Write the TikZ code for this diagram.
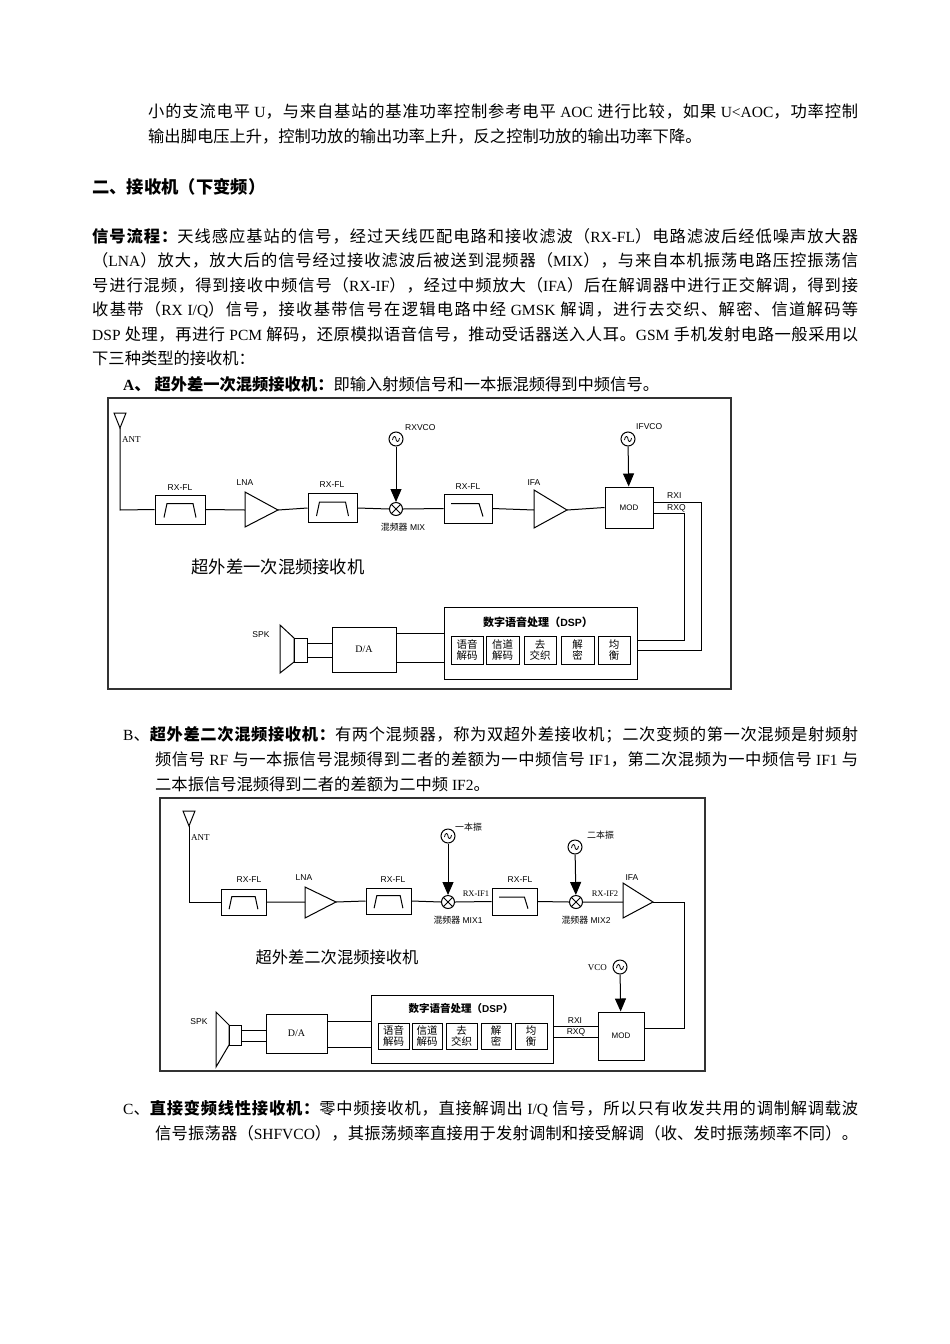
\documentclass[tikz,border=0pt]{standalone}
\usepackage{fontspec}
\setmainfont{Liberation Serif}
\setsansfont{Liberation Sans}
\newfontfamily\cjkfam[Scale=1.05]{Noto Sans CJK SC}
\usetikzlibrary{arrows.meta}
\XeTeXinterchartokenstate=1
\newXeTeXintercharclass\cjkclass
\newcount\cc
\def\setcls#1#2{\cc=#1\relax\loop\XeTeXcharclass\cc=\cjkclass\advance\cc by 1\relax\ifnum\cc<#2\repeat}
\setcls{"3000}{"3040}
\setcls{"4E00}{"A000}
\setcls{"FF00}{"FFF0}
\def\lat{\rmfamily}
\XeTeXinterchartoks 0 \cjkclass = {\cjkfam}
\XeTeXinterchartoks 4095 \cjkclass = {\cjkfam}
\XeTeXinterchartoks \cjkclass 0 = {\lat}
\XeTeXinterchartoks \cjkclass 4095 = {\lat}
\XeTeXinterchartoks \cjkclass \cjkclass = {\hskip0pt plus 3pt minus 1pt\relax}
\tikzset{
 body/.style={anchor=base west,inner sep=0pt,font=\fontsize{15.5}{17}\selectfont},
 full/.style={body,text width=710pt,align=justify},
 frame/.style={draw=black!80,line width=1.3pt},
 ln/.style={line width=1pt},
 blk/.style={draw,line width=1pt,inner sep=0pt},
 lab/.style={inner sep=0pt,font=\def\lat{\sffamily}\sffamily\fontsize{8.5}{9}\selectfont},
 sub/.style={blk,align=center,font=\def\lat{\sffamily}\fontsize{10}{11}\selectfont},
 arr/.style={ln,-{Triangle[length=13pt,width=11pt]}},
 osc/.style={circle,draw,line width=1pt,minimum size=14pt,inner sep=0pt},
 mix/.style={circle,draw,line width=1pt,minimum size=13pt,inner sep=0pt},
 bp/.pic={\draw[line width=1pt] (-16,8)--(-13,-6)--(13,-6)--(16,8);},
 lp/.pic={\draw[line width=1pt] (-17,-5)--(11,-5)--(15,8);},
 sn/.pic={\draw[line width=0.8pt] (-3.5,1) .. controls (-3,-4) and (0,-3) .. (0,0) .. controls (0,3) and (3,4) .. (3.5,-1);},
}
\begin{document}
\begin{tikzpicture}[x=1pt,y=-1pt]
\useasboundingbox[fill=white] (0,0) rectangle (950,1344);
% ---------- text ----------
\node[full] (t1) at (148,117) {\parfillskip=0pt 小的支流电平 U，与来自基站的基准功率控制参考电平 AOC 进行比较，如果 U<AOC，功率控制\par};
\node[body] (t2) at (148,142) {输出脚电压上升，控制功放的输出功率上升，反之控制功放的输出功率下降。};
\node[body,font=\bfseries\fontsize{16.5}{19}\selectfont] (h) at (92,193) {二、接收机（下变频）};
\node[full,text width=766pt] (p1) at (92,242) {\parfillskip=0pt {\bfseries 信号流程：}天线感应基站的信号，经过天线匹配电路和接收滤波（RX-FL）电路滤波后经低噪声放大器\par};
\node[full,text width=766pt] (p2) at (92,266) {\parfillskip=0pt （LNA）放大，放大后的信号经过接收滤波后被送到混频器（MIX），与来自本机振荡电路压控振荡信\par};
\node[full,text width=766pt] (p3) at (92,291) {\parfillskip=0pt 号进行混频，得到接收中频信号（RX-IF），经过中频放大（IFA）后在解调器中进行正交解调，得到接\par};
\node[full,text width=766pt] (p4) at (92,315) {\parfillskip=0pt 收基带（RX I/Q）信号，接收基带信号在逻辑电路中经 GMSK 解调，进行去交织、解密、信道解码等\par};
\node[full,text width=766pt] (p5) at (92,340) {\parfillskip=0pt DSP 处理，再进行 PCM 解码，还原模拟语音信号，推动受话器送入人耳。GSM 手机发射电路一般采用以\par};
\node[body] (p6) at (92,364) {下三种类型的接收机：};
\node[body] (la) at (123,390) {{\bfseries A、 超外差一次混频接收机：}即输入射频信号和一本振混频得到中频信号。};
\node[full,text width=735pt] (lb1) at (123,740) {\parfillskip=0pt B、{\bfseries 超外差二次混频接收机：}有两个混频器，称为双超外差接收机；二次变频的第一次混频是射频射\par};
\node[full,text width=703pt] (lb2) at (155,765) {\parfillskip=0pt 频信号 RF 与一本振信号混频得到二者的差额为一中频信号 IF1，第二次混频为一中频信号 IF1 与\par};
\node[body] (lb3) at (155,790) {二本振信号混频得到二者的差额为二中频 IF2。};
\node[full,text width=735pt] (lc1) at (123,1114) {\parfillskip=0pt C、{\bfseries 直接变频线性接收机：}零中频接收机，直接解调出 I/Q 信号，所以只有收发共用的调制解调载波\par};
\node[full,text width=703pt] (lc2) at (155,1139) {\parfillskip=0pt 信号振荡器（SHFVCO），其振荡频率直接用于发射调制和接受解调（收、发时振荡频率不同）。\par};

% ---------- diagram A ----------
\draw[frame] (108,398) rectangle (731,689);
\draw[ln] (114,413)--(126,413)--(120,428)--cycle;
\coordinate (antA) at (120,428);
\node[lab,anchor=west,font=\rmfamily\fontsize{9}{9}\selectfont] at (122,440) {ANT};
\node[blk,minimum width=50pt,minimum height=29pt] (af1) at (180,509.5) {};
\pic at (af1) {bp};
\node[lab] at (180,488) {RX-FL};
\draw[ln] (245,492)--(245,527)--(278,510)--cycle;
\coordinate (alnaL) at (245,510); \coordinate (alnaR) at (278,510);
\node[lab] at (245,483) {LNA};
\node[blk,minimum width=49pt,minimum height=29pt] (af2) at (332.5,508) {};
\pic at (af2) {bp};
\node[lab] at (332,485) {RX-FL};
\node[mix] (amix) at (396,509) {};
\draw[ln] (amix.45)--(amix.225) (amix.135)--(amix.315);
\node[lab] at (403,527) {混频器 MIX};
\node[osc] (aosc1) at (396,439) {};
\pic at (aosc1) {sn};
\node[lab,anchor=west] at (405,428) {RXVCO};
\draw[arr] (aosc1)--(amix);
\node[blk,minimum width=48pt,minimum height=29pt] (af3) at (468,508.5) {};
\pic at (af3) {lp};
\node[lab] at (468,487) {RX-FL};
\draw[ln] (534,490)--(534,528)--(567,510)--cycle;
\coordinate (aifaL) at (534,510); \coordinate (aifaR) at (567,510);
\node[lab] at (534,483) {IFA};
\node[blk,minimum width=48pt,minimum height=41pt,font=\sffamily\fontsize{8}{8}\selectfont] (amod) at (629,507.5) {MOD};
\node[osc] (aosc2) at (628,439) {};
\pic at (aosc2) {sn};
\node[lab,anchor=west] at (636,427) {IFVCO};
\draw[arr] (aosc2)--(amod);
\draw[ln] (antA)--(120,510)--(af1.west);
\draw[ln] (af1.east)--(alnaL) (alnaR)--(af2.west) (af2.east)--(amix.west) (amix.east)--(af3.west) (af3.east)--(aifaL) (aifaR)--(amod.west);
\node[lab,anchor=west] at (667,496) {RXI};
\node[lab,anchor=west] at (667,508) {RXQ};
\node[blk,minimum width=193pt,minimum height=72pt] (adsp) at (540.5,643) {};
\node[inner sep=0pt,font=\bfseries\def\lat{\sffamily}\sffamily\fontsize{10.5}{12}\selectfont] at (538,622) {数字语音处理（DSP）};
\node[sub,minimum width=32pt,minimum height=28pt] (as1) at (467,650) {语音\\解码};
\node[sub,minimum width=33pt,minimum height=28pt] (as2) at (502.5,650) {信道\\解码};
\node[sub,minimum width=32pt,minimum height=28pt] (as3) at (540,650) {去\\交织};
\node[sub,minimum width=33pt,minimum height=28pt] (as4) at (577.5,650) {解\\密};
\node[sub,minimum width=32pt,minimum height=28pt] (as5) at (614,650) {均\\衡};
\draw[ln] (amod.east |- 0,502)--(701,502)--(701,650)--(adsp.east |- 0,650);
\draw[ln] (amod.east |- 0,513)--(684,513)--(684,640)--(adsp.east |- 0,640);
\node[blk,minimum width=64pt,minimum height=45pt,font=\rmfamily\fontsize{10}{10}\selectfont] (ada) at (364,649.5) {D/A};
\draw[ln] (ada.east |- 0,633)--(adsp.west |- 0,633) (ada.east |- 0,662)--(adsp.west |- 0,662);
\draw[ln] (280,625)--(294,638)--(294,662)--(280,673)--cycle;
\node[blk,minimum width=13pt,minimum height=24pt] (aspk) at (300.5,650) {};
\draw[ln] (aspk.east |- 0,643)--(ada.west |- 0,643) (aspk.east |- 0,657)--(ada.west |- 0,657);
\node[lab] at (261,635) {SPK};
\node[inner sep=0pt,font=\fontsize{16.5}{18}\selectfont] (atitle) at (278,567) {超外差一次混频接收机};

% ---------- diagram B ----------
\draw[frame] (160,798) rectangle (705,1071);
\draw[ln] (183,811)--(195,811)--(189,826)--cycle;
\coordinate (antB) at (189,826);
\node[lab,anchor=west,font=\rmfamily\fontsize{9}{9}\selectfont] at (191,838) {ANT};
\node[blk,minimum width=45pt,minimum height=26pt] (bf1) at (243.5,902) {};
\pic[scale=0.9] at (bf1) {bp};
\node[lab] at (249,880) {RX-FL};
\draw[ln] (305,887)--(305,918)--(336,902)--cycle;
\coordinate (blnaL) at (305,902); \coordinate (blnaR) at (336,902);
\node[lab] at (304,878) {LNA};
\node[blk,minimum width=45pt,minimum height=26pt] (bf2) at (388.5,901) {};
\pic[scale=0.9] at (bf2) {bp};
\node[lab] at (393,880) {RX-FL};
\node[mix] (bmix1) at (448,902) {};
\draw[ln] (bmix1.45)--(bmix1.225) (bmix1.135)--(bmix1.315);
\node[osc] (bosc1) at (448,836) {};
\pic at (bosc1) {sn};
\node[lab,anchor=west] at (455,827) {一本振};
\draw[arr] (bosc1)--(bmix1);
\node[lab,font=\rmfamily\fontsize{8.5}{9}\selectfont] at (476,894) {RX-IF1};
\node[lab] at (458,920) {混频器 MIX1};
\node[blk,minimum width=45pt,minimum height=27pt] (bf3) at (514.5,901.5) {};
\pic[scale=0.9] at (bf3) {lp};
\node[lab] at (520,880) {RX-FL};
\node[mix] (bmix2) at (576,902) {};
\draw[ln] (bmix2.45)--(bmix2.225) (bmix2.135)--(bmix2.315);
\node[osc] (bosc2) at (575,847) {};
\pic at (bosc2) {sn};
\node[lab,anchor=west] at (587,835) {二本振};
\draw[arr] (bosc2)--(bmix2);
\node[lab,font=\rmfamily\fontsize{8.5}{9}\selectfont] at (605,894) {RX-IF2};
\node[lab] at (586,920) {混频器 MIX2};
\draw[ln] (623,883)--(623,918)--(653,902)--cycle;
\coordinate (bifaL) at (623,902); \coordinate (bifaR) at (653,902);
\node[lab] at (632,878) {IFA};
\draw[ln] (antB)--(189,902)--(bf1.west);
\draw[ln] (bf1.east)--(blnaL) (blnaR)--(bf2.west) (bf2.east)--(bmix1.west) (bmix1.east)--(bf3.west) (bf3.east)--(bmix2.west) (bmix2.east)--(bifaL);
\node[blk,minimum width=46pt,minimum height=48pt,font=\sffamily\fontsize{8}{8}\selectfont] (bmod) at (621,1036) {MOD};
\draw[ln] (bifaR)--(684,902)--(684,1028)--(bmod.east |- 0,1028);
\node[osc] (bosc3) at (620,967) {};
\pic at (bosc3) {sn};
\node[lab,anchor=east,font=\rmfamily\fontsize{9}{9}\selectfont] at (607,968) {VCO};
\draw[arr] (bosc3)--(bmod);
\node[inner sep=0pt,font=\fontsize{15.5}{17}\selectfont] (btitle) at (337,957) {超外差二次混频接收机};
\node[blk,minimum width=182pt,minimum height=68pt] (bdsp) at (462,1029) {};
\node[inner sep=0pt,font=\bfseries\def\lat{\sffamily}\sffamily\fontsize{10}{12}\selectfont] at (461,1008) {数字语音处理（DSP）};
\node[sub,minimum width=31pt,minimum height=26pt] (bs1) at (393.5,1036) {语音\\解码};
\node[sub,minimum width=30pt,minimum height=26pt] (bs2) at (427,1036) {信道\\解码};
\node[sub,minimum width=31pt,minimum height=26pt] (bs3) at (461.5,1036) {去\\交织};
\node[sub,minimum width=30pt,minimum height=26pt] (bs4) at (496,1036) {解\\密};
\node[sub,minimum width=32pt,minimum height=26pt] (bs5) at (531,1036) {均\\衡};
\draw[ln] (bdsp.east |- 0,1026)--(bmod.west |- 0,1026) (bdsp.east |- 0,1037)--(bmod.west |- 0,1037);
\node[lab] at (575,1021) {RXI};
\node[lab] at (576,1032) {RXQ};
\node[blk,minimum width=61pt,minimum height=39pt,font=\rmfamily\fontsize{10}{10}\selectfont] (bda) at (296.5,1033.5) {D/A};
\draw[ln] (bda.east |- 0,1021)--(bdsp.west |- 0,1021) (bda.east |- 0,1047)--(bdsp.west |- 0,1047);
\draw[ln] (216,1012)--(229,1025)--(229,1045)--(216,1067)--cycle;
\node[blk,minimum width=12pt,minimum height=20pt] (bspk) at (235,1035) {};
\draw[ln] (bspk.east |- 0,1030)--(bda.west |- 0,1030) (bspk.east |- 0,1041)--(bda.west |- 0,1041);
\node[lab] at (199,1022) {SPK};
\end{tikzpicture}
\end{document}
